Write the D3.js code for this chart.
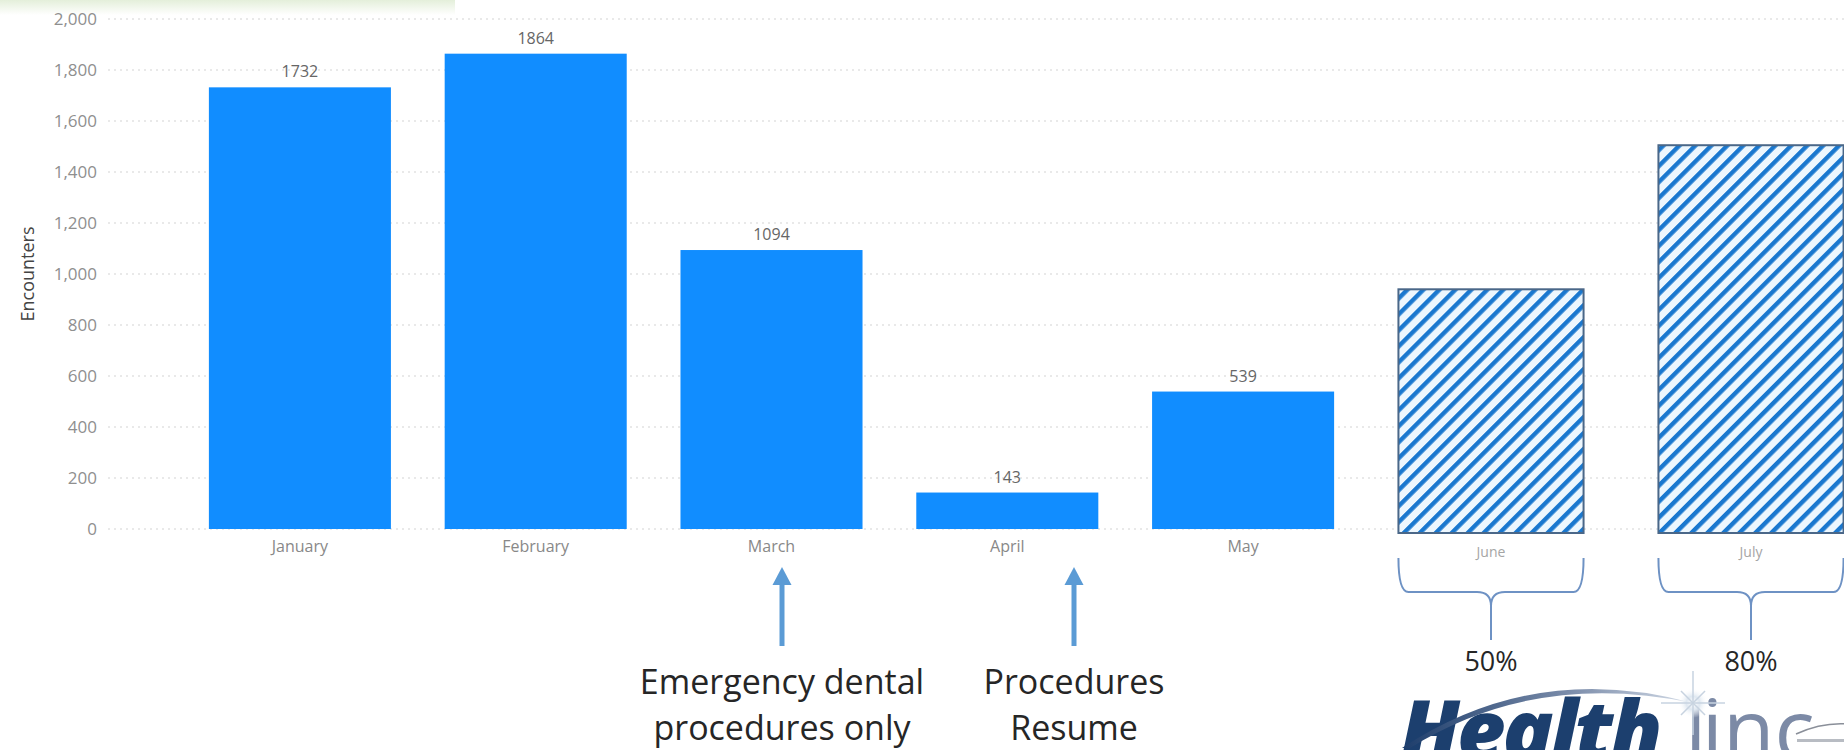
<!DOCTYPE html>
<html>
<head>
<meta charset="utf-8">
<script src="https://cdn.jsdelivr.net/npm/d3@7"></script>
<style>
  html, body { margin: 0; padding: 0; background: #fff; }
  svg { display: block; }
</style>
</head>
<body>
<svg id="chart" width="1844" height="750"></svg>
<script>
// Monthly encounters (actual)
const months = ["January", "February", "March", "April", "May"];
const encounters = [1732, 1864, 1094, 143, 539];

// Projected encounters for the coming months
const projectedMonths = ["June", "July"];
const projectedEncounters = [940, 1505];
const projectedShares = ["50%", "80%"];

// Value axis ticks
const yTicks = [0, 200, 400, 600, 800, 1000, 1200, 1400, 1600, 1800, 2000];

// Callouts under the category axis
const noteLines = [
  ["Emergency dental", "procedures only"],
  ["Procedures", "Resume"]
];

const W = 1844, H = 750;
const FONT = "'Open Sans', 'Segoe UI', sans-serif";
const svg = d3.select("#chart");

const y = d3.scaleLinear().domain([0, 2000]).range([529, 19]);

const x = d3.scaleBand().domain(months)
  .range([182, 1361]).paddingInner(0.228).paddingOuter(0.114);
const xp = d3.scaleBand().domain(projectedMonths)
  .range([1361, 1881]).paddingInner(0.288).paddingOuter(0.144);

// header tint band
const defs = svg.append("defs");
const hdr = defs.append("linearGradient").attr("id", "hdr")
  .attr("x1", 0).attr("y1", 0).attr("x2", 0).attr("y2", 1);
hdr.append("stop").attr("offset", "0%").attr("stop-color", "#e4efda");
hdr.append("stop").attr("offset", "100%").attr("stop-color", "#ffffff");
svg.append("rect").attr("x", 0).attr("y", 0).attr("width", 455).attr("height", 15)
  .attr("fill", "url(#hdr)");

// hatch pattern for projected bars
const pat = defs.append("pattern").attr("id", "hatch")
  .attr("patternUnits", "userSpaceOnUse")
  .attr("width", 11.3).attr("height", 11.3)
  .attr("patternTransform", "rotate(45)");
pat.append("rect").attr("width", 11.3).attr("height", 11.3).attr("fill", "#edf7fe");
pat.append("rect").attr("x", 0).attr("y", 0).attr("width", 4.4).attr("height", 11.3)
  .attr("fill", "#1a78cf");

// gridlines + tick labels
const yAxis = d3.axisLeft(y).tickValues(yTicks).tickFormat(d3.format(",")).tickSize(0).tickPadding(0);
const gy = svg.append("g").attr("transform", "translate(97,0)").call(yAxis);
gy.select(".domain").remove();
gy.selectAll("text")
  .attr("font-family", FONT).attr("font-size", 17).attr("fill", "#8f8f8f");

svg.append("g").selectAll("line").data(yTicks).join("line")
  .attr("x1", 108).attr("x2", W)
  .attr("y1", d => y(d)).attr("y2", d => y(d))
  .attr("stroke", "#e2e2e2").attr("stroke-width", 1.5)
  .attr("stroke-dasharray", "2,4");

// axis title
svg.append("text")
  .attr("transform", "translate(34,274) rotate(-90)")
  .attr("text-anchor", "middle")
  .attr("font-family", FONT).attr("font-size", 18).attr("fill", "#444")
  .text("Encounters");

// actual bars
svg.append("g").selectAll("rect").data(months).join("rect")
  .attr("x", d => x(d))
  .attr("y", (d, i) => y(encounters[i]))
  .attr("width", x.bandwidth())
  .attr("height", (d, i) => y(0) - y(encounters[i]))
  .attr("fill", "#118dff");

// value labels
svg.append("g").selectAll("text").data(months).join("text")
  .attr("x", d => x(d) + x.bandwidth() / 2)
  .attr("y", (d, i) => y(encounters[i]) - 10)
  .attr("text-anchor", "middle")
  .attr("font-family", FONT).attr("font-size", 16).attr("fill", "#666")
  .text((d, i) => encounters[i]);

// category labels
const xAxis = d3.axisBottom(x).tickSize(0).tickPadding(0);
const gx = svg.append("g").attr("transform", "translate(0,540)").call(xAxis);
gx.select(".domain").remove();
gx.selectAll("text")
  .attr("dy", 12)
  .attr("font-family", FONT).attr("font-size", 16).attr("fill", "#888");

// projected bars
svg.append("g").selectAll("rect").data(projectedMonths).join("rect")
  .attr("x", d => xp(d))
  .attr("y", (d, i) => y(projectedEncounters[i]))
  .attr("width", xp.bandwidth())
  .attr("height", (d, i) => y(0) - y(projectedEncounters[i]) + 4)
  .attr("fill", "url(#hatch)")
  .attr("stroke", "#4a6788").attr("stroke-width", 2);

const gxp = svg.append("g").attr("transform", "translate(0,545)").call(d3.axisBottom(xp).tickSize(0).tickPadding(0));
gxp.select(".domain").remove();
gxp.selectAll("text")
  .attr("dy", 12)
  .attr("font-family", FONT).attr("font-size", 14).attr("fill", "#a5a5a5");

// braces under projected bars with share labels
const braces = svg.append("g");
projectedMonths.forEach((m, i) => {
  const x0 = xp(m), x1 = xp(m) + xp.bandwidth(), xc = (x0 + x1) / 2;
  const y0 = 558, y1 = 592, y2 = 640;
  const p = d3.path();
  p.moveTo(x0, y0);
  p.quadraticCurveTo(x0, y1, x0 + 10, y1);
  p.lineTo(xc - 14, y1);
  p.quadraticCurveTo(xc, y1, xc, y1 + 14);
  p.lineTo(xc, y2);
  p.moveTo(xc, y1 + 14);
  p.quadraticCurveTo(xc, y1, xc + 14, y1);
  p.lineTo(x1 - 10, y1);
  p.quadraticCurveTo(x1, y1, x1, y0);
  braces.append("path").attr("d", p.toString())
    .attr("fill", "none").attr("stroke", "#6e92c4").attr("stroke-width", 2);
  braces.append("text")
    .attr("x", xc).attr("y", 671)
    .attr("text-anchor", "middle")
    .attr("font-family", FONT).attr("font-size", 27).attr("fill", "#262626")
    .text(projectedShares[i]);
});

// callout arrows and notes
const noteX = [782, 1074];
const notes = svg.append("g");
noteX.forEach((nx, i) => {
  notes.append("rect").attr("x", nx - 2.5).attr("y", 582).attr("width", 5).attr("height", 64)
    .attr("fill", "#5b9bd5");
  notes.append("path")
    .attr("d", `M${nx},567 L${nx + 9.5},585 L${nx - 9.5},585 Z`)
    .attr("fill", "#5b9bd5");
  notes.append("text")
    .attr("x", nx).attr("y", 694)
    .attr("text-anchor", "middle")
    .attr("font-family", FONT).attr("font-size", 34).attr("fill", "#262626")
    .selectAll("tspan").data(noteLines[i]).join("tspan")
    .attr("x", nx).attr("dy", (d, j) => j === 0 ? 0 : 46)
    .text(d => d);
});

// HealthLinc mark
const logo = svg.append("g");
const sw = defs.append("linearGradient").attr("id", "swoosh")
  .attr("x1", 0).attr("y1", 0).attr("x2", 1).attr("y2", 0);
sw.append("stop").attr("offset", "0%").attr("stop-color", "#1d3d6b");
sw.append("stop").attr("offset", "60%").attr("stop-color", "#7f90ad");
sw.append("stop").attr("offset", "100%").attr("stop-color", "#d5dde8");
const glow = defs.append("radialGradient").attr("id", "glow");
glow.append("stop").attr("offset", "0%").attr("stop-color", "#ffffff");
glow.append("stop").attr("offset", "45%").attr("stop-color", "#dfe8f1");
glow.append("stop").attr("offset", "100%").attr("stop-color", "#ffffff").attr("stop-opacity", 0);

logo.append("text")
  .attr("x", 1400).attr("y", 760)
  .attr("font-family", FONT).attr("font-size", 84).attr("font-weight", 800)
  .attr("font-style", "italic").attr("fill", "#1c3f6e")
  .attr("letter-spacing", -3)
  .text("Health");
const linc = logo.append("text")
  .attr("x", 1684).attr("y", 760)
  .attr("font-family", FONT).attr("font-size", 84).attr("font-weight", 400)
  .attr("fill", "#7c8aa6");
linc.append("tspan").text("L");
linc.append("tspan").attr("dx", -26).text("inc");
logo.append("path")
  .attr("d", "M1402,748 Q1535,660 1693,703 Q1535,670 1410,748 Z")
  .attr("fill", "url(#swoosh)");
logo.append("circle").attr("cx", 1693).attr("cy", 703).attr("r", 15).attr("fill", "url(#glow)");
const rays = [0, 45, 90, 135, 180, 225, 270, 315];
logo.selectAll("line.ray").data(rays).join("line")
  .attr("class", "ray")
  .attr("x1", 1693).attr("y1", 703)
  .attr("x2", a => 1693 + Math.cos(a * Math.PI / 180) * (a % 90 === 0 ? 32 : 17))
  .attr("y2", a => 703 + Math.sin(a * Math.PI / 180) * (a % 90 === 0 ? 32 : 17))
  .attr("stroke", "#c7d3e0").attr("stroke-width", 1.5);

// small partner mark at the corner
logo.append("path")
  .attr("d", "M1796,734 Q1822,722 1848,724")
  .attr("fill", "none").attr("stroke", "#8a8f99").attr("stroke-width", 1.5);
logo.append("rect").attr("x", 1797).attr("y", 739).attr("width", 47).attr("height", 3)
  .attr("fill", "#9aa0aa").attr("opacity", 0.7);
</script>
</body>
</html>
